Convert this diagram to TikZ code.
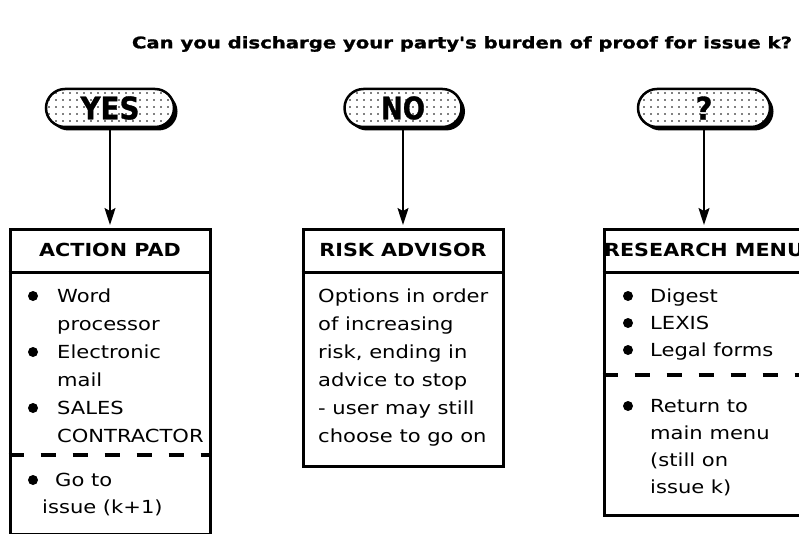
\documentclass[tikz,border=0pt]{standalone}
\usepackage{fontspec}
\usepackage{graphicx}
\usetikzlibrary{patterns.meta,arrows.meta,shapes.misc,shadows}
\newfontfamily\bodyf[FakeStretch=1.17]{DejaVu Sans}
\newfontfamily\headf[FakeStretch=1.15]{DejaVu Sans}
\newfontfamily\heavyf[FakeStretch=1.1,FakeBold=1.2]{DejaVu Sans}
\begin{document}
\begin{tikzpicture}[x=1pt,y=-1pt,
  pill/.style={rounded rectangle, draw, line width=2.5pt, fill=white, minimum height=38pt, inner sep=0pt,
    drop shadow={shadow xshift=3.5pt, shadow yshift=-3.5pt, opacity=1, fill=black},
    postaction={pattern={Dots[distance=7pt,radius=0.9pt]}}},
  box/.style={draw, line width=3pt, inner sep=0pt, anchor=north, minimum width=200pt},
  rule/.style={line width=3pt},
  dashrule/.style={line width=3.5pt, dash pattern=on 15pt off 17pt},
  head/.style={font=\headf\bfseries\fontsize{18}{20}\selectfont, inner sep=0pt},
  body/.style={font=\bodyf\fontsize{18}{20}\selectfont, inner sep=0pt, anchor=base west},
  bul/.style={circle, fill=black, minimum size=10pt, inner sep=0pt},
  arr/.style={line width=1.5pt, -{Stealth[length=17pt,width=11pt,inset=3pt]}, shorten >=3pt}
]
\useasboundingbox (0,0) rectangle (799,534);
\fill[white] (0,0) rectangle (799,534);

% title
\node[inner sep=0pt] (title) at (462,44) {\resizebox{660pt}{\height}{\heavyf\bfseries\fontsize{16}{18}\selectfont Can you discharge your party's burden of proof for issue k?}};

% pills
\node[pill, minimum width=128pt] (yes) at (110,108) {\resizebox{59pt}{\height}{\heavyf\bfseries\fontsize{31}{32}\selectfont YES}};
\node[pill, minimum width=117pt] (no) at (403,108) {\resizebox{44pt}{\height}{\heavyf\bfseries\fontsize{31}{32}\selectfont NO}};
\node[pill, minimum width=132pt] (q) at (704,108) {\resizebox{17pt}{\height}{\heavyf\bfseries\fontsize{31}{32}\selectfont ?}};

% boxes
\node[box, minimum height=305pt] (ap) at (110,228) {};
\node[box, minimum height=237pt] (ra) at (403,228) {};
\node[box, minimum height=286pt] (rm) at (704,228) {};

% arrows
\draw[arr] (yes.south) -- (ap.north);
\draw[arr] (no.south) -- (ra.north);
\draw[arr] (q.south) -- (rm.north);

% header rules
\draw[rule] (ap.west |- 0,272) -- (ap.east |- 0,272);
\draw[rule] (ra.west |- 0,272) -- (ra.east |- 0,272);
\draw[rule] (rm.west |- 0,272) -- (rm.east |- 0,272);

% headers
\node[head] (aph) at (110,250) {ACTION PAD};
\node[head] (rah) at (403,250) {RISK ADVISOR};
\node[head] (rmh) at (704,250) {RESEARCH MENU};

% ACTION PAD body
\node[bul] (b1) at (33,296) {};
\node[body] (t1) at (57,302) {Word};
\node[body] (t2) at (57,330) {processor};
\node[bul] (b2) at (33,352) {};
\node[body] (t3) at (57,358) {Electronic};
\node[body] (t4) at (57,386) {mail};
\node[bul] (b3) at (33,408) {};
\node[body] (t5) at (57,414) {SALES};
\node[body] (t6) at (57,442) {CONTRACTOR};
\draw[dashrule] (ap.west |- 0,455) -- (ap.east |- 0,455);
\node[bul] (b4) at (33,480) {};
\node[body] (t7) at (55,486) {Go to};
\node[body] (t8) at (42,513) {issue (k+1)};

% RISK ADVISOR body
\node[body] (r1) at (318,302) {Options in order};
\node[body] (r2) at (318,330) {of increasing};
\node[body] (r3) at (318,358) {risk, ending in};
\node[body] (r4) at (318,386) {advice to stop};
\node[body] (r5) at (318,414) {- user may still};
\node[body] (r6) at (318,442) {choose to go on};

% RESEARCH MENU body
\node[bul] (c1) at (628,296) {};
\node[body] (s1) at (650,302) {Digest};
\node[bul] (c2) at (628,323) {};
\node[body] (s2) at (650,329) {LEXIS};
\node[bul] (c3) at (628,350) {};
\node[body] (s3) at (650,356) {Legal forms};
\draw[dashrule] (rm.west |- 0,375) -- (rm.east |- 0,375);
\node[bul] (c4) at (628,406) {};
\node[body] (s4) at (650,412) {Return to};
\node[body] (s5) at (650,439) {main menu};
\node[body] (s6) at (650,466) {(still on};
\node[body] (s7) at (650,493) {issue k)};
\end{tikzpicture}
\end{document}
